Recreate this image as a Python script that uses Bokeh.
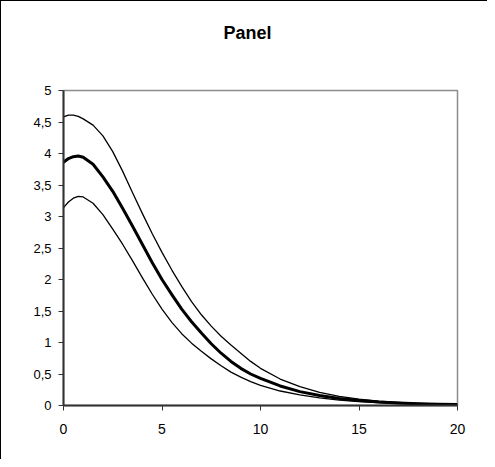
from bokeh.plotting import figure
from bokeh.models import Range1d, FixedTicker, Title
from bokeh.embed import file_html
from bokeh.resources import INLINE

x = [0, 0.25, 0.5, 0.75, 1, 1.5, 2, 2.5, 3, 3.5, 4, 4.5, 5, 5.5, 6, 6.5, 7, 7.5, 8, 8.5, 9, 9.5, 10,
     11, 12, 13, 14, 15, 16, 17, 18, 19, 20]
upper = [4.58, 4.61, 4.61, 4.59, 4.55, 4.45, 4.28, 4.03, 3.72, 3.38, 3.05, 2.73, 2.43, 2.15, 1.89, 1.65,
         1.44, 1.26, 1.10, 0.96, 0.83, 0.70, 0.59,
         0.42, 0.30, 0.21, 0.145, 0.10, 0.07, 0.05, 0.035, 0.025, 0.018]
middle = [3.86, 3.92, 3.95, 3.96, 3.94, 3.83, 3.63, 3.40, 3.13, 2.85, 2.56, 2.27, 2.00, 1.76, 1.53, 1.33,
          1.15, 0.98, 0.83, 0.70, 0.59, 0.50, 0.43,
          0.31, 0.22, 0.16, 0.11, 0.08, 0.055, 0.04, 0.028, 0.02, 0.014]
lower = [3.14, 3.23, 3.29, 3.32, 3.31, 3.21, 3.03, 2.80, 2.56, 2.30, 2.03, 1.77, 1.53, 1.32, 1.14, 0.99,
         0.86, 0.74, 0.63, 0.53, 0.45, 0.38, 0.32,
         0.23, 0.17, 0.12, 0.085, 0.06, 0.045, 0.032, 0.022, 0.016, 0.011]

x_ticks = [0, 5, 10, 15, 20]
y_ticks = [0, 0.5, 1, 1.5, 2, 2.5, 3, 3.5, 4, 4.5, 5]
title_text = "Panel"

FONT = "Liberation Sans"

p = figure(width=487, height=459, output_backend="svg", toolbar_location=None,
           x_range=Range1d(0, 20), y_range=Range1d(0, 5),
           min_border_left=62, min_border_right=31, min_border_top=89, min_border_bottom=55)
p.styles = {"border-left": "1px solid black", "border-top": "1px solid black"}

# two empty trailing lines lift the title well above the plot area
p.title = Title(text=title_text + "\n\n", align="left", offset=160, standoff=0,
                vertical_align="bottom", text_line_height=1.2,
                text_font=FONT, text_font_size="18px", text_font_style="bold",
                text_color="black")

p.line(x, upper, line_color="black", line_width=1.3, line_join="round")
p.line(x, middle, line_color="black", line_width=3, line_join="round")
p.line(x, lower, line_color="black", line_width=1.3, line_join="round")

p.xgrid.visible = False
p.ygrid.visible = False
p.outline_line_color = "#8c8c8c"
p.outline_line_width = 1.5
p.background_fill_color = "white"
p.border_fill_color = "white"

p.xaxis.ticker = FixedTicker(ticks=x_ticks)
p.yaxis.ticker = FixedTicker(ticks=y_ticks)
p.yaxis.major_label_overrides = {t: (str(t).replace(".", ",") if t != int(t) else str(int(t))) for t in y_ticks}
p.xaxis.major_label_overrides = {t: str(t) for t in x_ticks}

for ax in (p.xaxis[0], p.yaxis[0]):
    ax.axis_line_color = "#333333"
    ax.axis_line_width = 2
    ax.major_tick_line_color = "#333333"
    ax.major_tick_line_width = 1
    ax.major_tick_out = 5
    ax.major_tick_in = 0
    ax.minor_tick_line_color = None
    ax.major_label_text_font = FONT
    ax.major_label_text_color = "black"

p.xaxis.major_label_text_font_size = "14px"
p.yaxis.major_label_text_font_size = "13px"
p.xaxis.major_label_standoff = 13
p.yaxis.major_label_standoff = 7

open("out.html", "w").write(file_html(p, INLINE))
